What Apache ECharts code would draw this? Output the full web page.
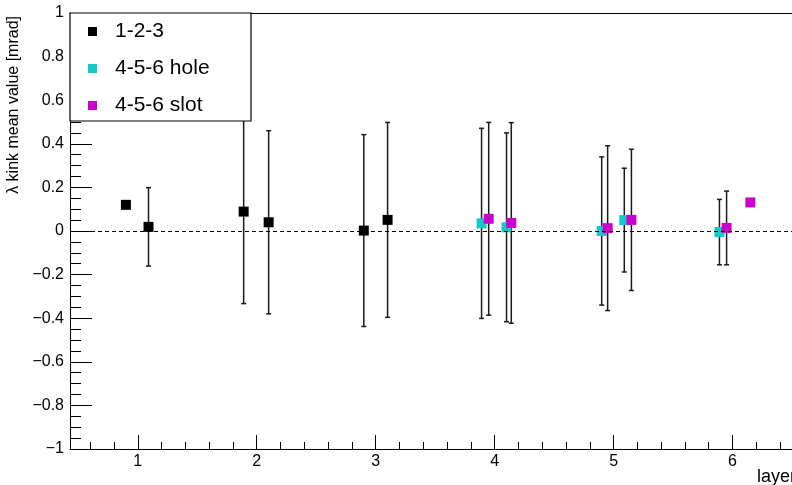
<!DOCTYPE html>
<html>
<head>
<meta charset="utf-8">
<script src="https://cdn.jsdelivr.net/npm/echarts@6/dist/echarts.min.js"></script>
<style>
html,body{margin:0;padding:0;background:#fff;}
#chart{width:792px;height:485px;}
</style>
</head>
<body>
<div id="chart"></div>
<script>
// ---- data ----
var seriesNames = ['1-2-3', '4-5-6 hole', '4-5-6 slot'];
var x123 = [0.90, 1.09, 1.89, 2.10, 2.90, 3.10];
var y123 = [0.120, 0.019, 0.089, 0.040, 0.002, 0.051];
var e123 = [0, 0.180, 0.422, 0.420, 0.440, 0.447];

var xHole = [3.89, 4.10, 4.90, 5.09, 5.89];
var yHole = [0.035, 0.017, 0.000, 0.050, -0.005];
var eHole = [0.436, 0.433, 0.340, 0.238, 0.150];

var xSlot = [3.95, 4.14, 4.95, 5.15, 5.95, 6.15];
var ySlot = [0.056, 0.037, 0.013, 0.051, 0.014, 0.131];
var eSlot = [0.442, 0.460, 0.378, 0.324, 0.169, 0];

var xTickLabels = [1, 2, 3, 4, 5, 6];
var xMajorTicks = [1, 2, 3, 4, 5, 6];
var yTitle = 'λ kink mean value [mrad]';
var xTitle = 'layer';

// ---- build ----
var X_MIN = 0.43, X_MAX = 6.5;
var xMinorTicks = [];
for (var i = 3; i <= 32; i++) {
  var v = Math.round(i * 2) / 10;
  if (Math.abs(v - Math.round(v)) > 1e-6) xMinorTicks.push(v);
}
function pts(xs, ys, es) {
  return xs.map(function (x, i) { return [x, ys[i], es[i]]; });
}
var colors = ['#000000', '#14c8c8', '#cc00cc'];
var datasets = [pts(x123, y123, e123), pts(xHole, yHole, eHole), pts(xSlot, ySlot, eSlot)];

function errSeries(data) {
  return {
    type: 'custom',
    xAxisIndex: 0, yAxisIndex: 0,
    z: 1,
    silent: true,
    data: data,
    renderItem: function (params, api) {
      var x = api.value(0), y = api.value(1), e = api.value(2);
      if (!e) return null;
      var top = api.coord([x, y + e]);
      var bot = api.coord([x, y - e]);
      var hw = 2.5;
      var st = { stroke: '#1a1a1a', lineWidth: 1.5 };
      return {
        type: 'group',
        children: [
          { type: 'line', shape: { x1: top[0], y1: top[1], x2: bot[0], y2: bot[1] }, style: st },
          { type: 'line', shape: { x1: top[0] - hw, y1: top[1], x2: top[0] + hw, y2: top[1] }, style: st },
          { type: 'line', shape: { x1: bot[0] - hw, y1: bot[1], x2: bot[0] + hw, y2: bot[1] }, style: st }
        ]
      };
    }
  };
}

var series = [];
datasets.forEach(function (d) { series.push(errSeries(d)); });
datasets.forEach(function (d, i) {
  var s = {
    name: seriesNames[i],
    type: 'scatter',
    symbol: 'rect',
    symbolSize: 10,
    z: 2,
    itemStyle: { color: colors[i], opacity: 1 },
    data: d.map(function (p) { return [p[0], p[1]]; })
  };
  if (i === 0) {
    s.markLine = {
      silent: true,
      symbol: ['none', 'none'],
      label: { show: false },
      lineStyle: { color: '#000', type: [4, 3], width: 1 },
      data: [{ yAxis: 0 }],
      animation: false
    };
  }
  series.push(s);
});

var labelFont = 'Liberation Sans, Arial, Helvetica, sans-serif';
var chart = echarts.init(document.getElementById('chart'));
chart.setOption({
  animation: false,
  backgroundColor: '#fff',
  grid: { left: 70, top: 13, bottom: 36, right: 0, show: false },
  xAxis: [{
    type: 'value', min: X_MIN, max: X_MAX, position: 'bottom',
    axisLine: { show: true, onZero: false, lineStyle: { color: '#000', width: 1 } },
    axisTick: { show: true, inside: true, length: 14, customValues: xMajorTicks, lineStyle: { color: '#000' } },
    axisLabel: { show: true, customValues: xTickLabels, margin: 5, fontSize: 16, color: '#000', fontFamily: labelFont },
    splitLine: { show: false }
  }, {
    type: 'value', min: X_MIN, max: X_MAX, position: 'bottom', offset: 0,
    axisLine: { show: false, onZero: false },
    axisTick: { show: true, inside: true, length: 7, customValues: xMinorTicks, lineStyle: { color: '#000' } },
    axisLabel: { show: false },
    splitLine: { show: false }
  }, {
    type: 'value', min: X_MIN, max: X_MAX, position: 'top', offset: 0,
    axisLine: { show: true, onZero: false, lineStyle: { color: '#000', width: 1 } },
    axisTick: { show: false },
    axisLabel: { show: false },
    splitLine: { show: false }
  }],
  yAxis: {
    type: 'value', min: -1, max: 1, interval: 0.2,
    axisLine: { show: true, onZero: false, lineStyle: { color: '#000', width: 1 } },
    axisTick: { show: true, inside: true, length: 22, lineStyle: { color: '#000' } },
    minorTick: { show: true, splitNumber: 4, length: 11, lineStyle: { color: '#000' } },
    axisLabel: {
      margin: 6, fontSize: 16, color: '#000', fontFamily: labelFont,
      formatter: function (v) { var s = String(Math.round(v * 10) / 10); return s.replace('-', '\u2212'); }
    },
    splitLine: { show: false }
  },
  legend: {
    data: seriesNames,
    orient: 'vertical',
    left: 88, top: 21,
    padding: 0,
    itemGap: 16,
    itemWidth: 9, itemHeight: 9,
    icon: 'rect',
    z: 5,
    textStyle: { fontSize: 21, lineHeight: 21, color: '#000', fontFamily: labelFont, padding: [0, 0, 0, 13] }
  },
  graphic: [
    { type: 'rect', z: 4, shape: { x: 70, y: 13, width: 181, height: 108 }, style: { fill: '#fff', stroke: '#000', lineWidth: 1.2 } },
    { type: 'text', z: 5, x: 14, y: 16, rotation: Math.PI / 2,
      style: { text: yTitle, fontSize: 16, fill: '#000', fontFamily: labelFont, align: 'right', verticalAlign: 'middle' } },
    { type: 'text', z: 5, x: 757, y: 468,
      style: { text: xTitle, fontSize: 18, fill: '#000', fontFamily: labelFont, align: 'left', verticalAlign: 'top' } }
  ],
  series: series
});
</script>
</body>
</html>
